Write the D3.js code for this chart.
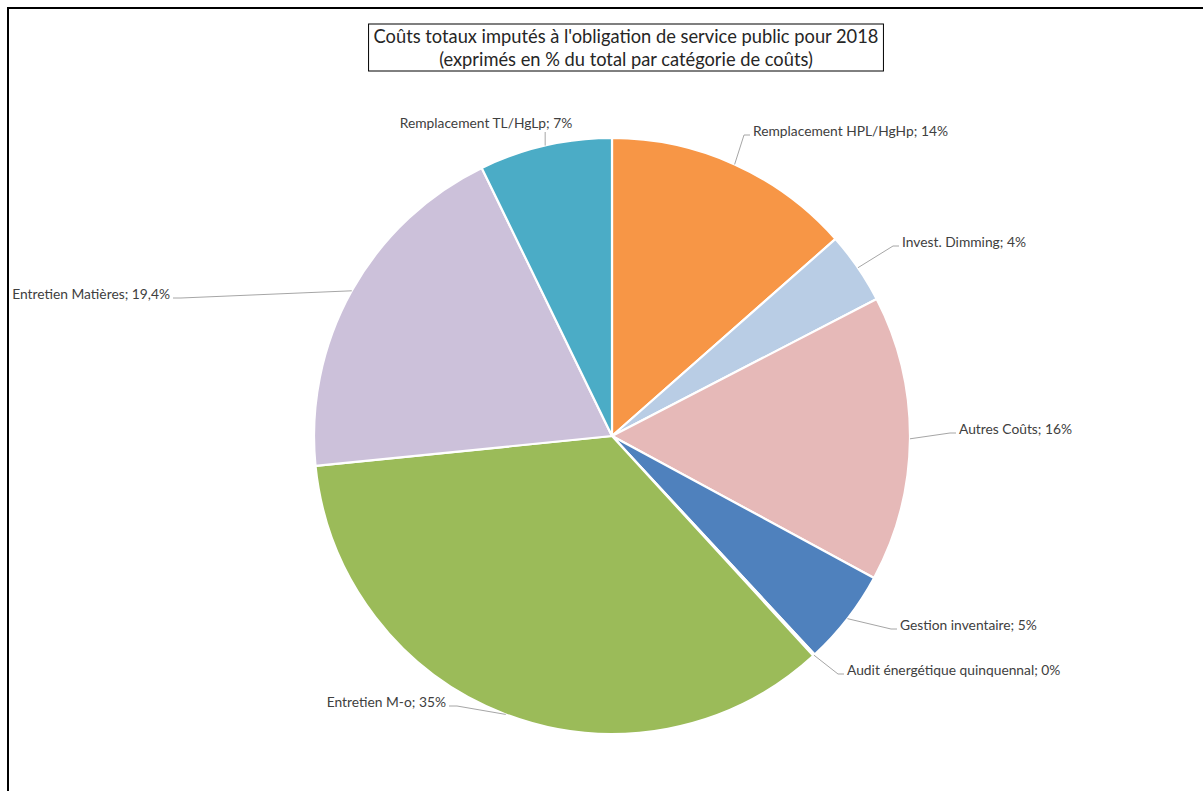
<!DOCTYPE html>
<html>
<head>
<meta charset="utf-8">
<script src="https://cdn.jsdelivr.net/npm/d3@7"></script>
<style>
  html, body { margin: 0; padding: 0; background: #ffffff; }
  svg { display: block; }
</style>
</head>
<body>
<svg id="chart" width="1203" height="791"></svg>
<script>
// Cost categories, clockwise from 12 o'clock
const categories = [
  "Remplacement HPL/HgHp",
  "Invest. Dimming",
  "Autres Coûts",
  "Gestion inventaire",
  "Audit énergétique quinquennal",
  "Entretien M-o",
  "Entretien Matières",
  "Remplacement TL/HgLp"
];
// Share of total cost, in %
const shares = [13.5, 3.9, 15.5, 5.2, 0.1, 35.2, 19.4, 7.2];
// Decimals shown in each data label
const labelDecimals = [0, 0, 0, 0, 0, 0, 1, 0];
const sliceColors = ["#F79646", "#B9CDE5", "#E6B9B8", "#4F81BD", "#8064A2", "#9BBB59", "#CCC1DA", "#4BACC6"];
const titleLines = [
  "Coûts totaux imputés à l'obligation de service public pour 2018",
  "(exprimés en % du total par catégorie de coûts)"
];

// Label placement relative to the pie centre
const labelLayout = [
  { dx: 141, dy: -305, anchor: "start" },
  { dx: 290, dy: -194, anchor: "start" },
  { dx: 347, dy: -7,   anchor: "start" },
  { dx: 288, dy: 189,  anchor: "start" },
  { dx: 235, dy: 234,  anchor: "start" },
  { dx: -166, dy: 266, anchor: "end" },
  { dx: -442, dy: -142, anchor: "end" },
  { dx: -126, dy: -313, anchor: "middle" }
];

const W = 1203, H = 791;
const cx = 612, cy = 436, R = 298;
const FONT = "Lato, 'Open Sans', sans-serif";

const svg = d3.select("#chart");

// Chart frame (runs off the right and bottom edges)
svg.append("rect")
  .attr("x", 8).attr("y", 8)
  .attr("width", W + 50).attr("height", H + 50)
  .attr("fill", "#ffffff")
  .attr("stroke", "#000000")
  .attr("stroke-width", 2);

// Title in a bordered box
const titleG = svg.append("g");
const titleText = titleG.append("text")
  .attr("font-family", FONT)
  .attr("font-size", 18.3)
  .attr("fill", "#262626")
  .attr("text-anchor", "middle");
titleLines.forEach((t, i) => {
  titleText.append("tspan")
    .attr("x", 626)
    .attr("y", 43 + i * 23)
    .text(t);
});
const tb = titleText.node().getBBox();
titleG.insert("rect", "text")
  .attr("x", tb.x - 5).attr("y", tb.y - 1)
  .attr("width", tb.width + 10).attr("height", tb.height + 2)
  .attr("fill", "#ffffff")
  .attr("stroke", "#000000")
  .attr("stroke-width", 1);

// Pie
const pie = d3.pie().sort(null).value(d => d.value);
const data = categories.map((c, i) => ({ name: c, value: shares[i], i }));
const arcs = pie(data);
const arc = d3.arc().innerRadius(0).outerRadius(R);
const edgeArc = d3.arc().innerRadius(R).outerRadius(R);

const g = svg.append("g").attr("transform", `translate(${cx},${cy})`);

g.selectAll("path.slice")
  .data(arcs)
  .join("path")
  .attr("class", "slice")
  .attr("d", arc)
  .attr("fill", d => sliceColors[d.data.i])
  .attr("stroke", "#ffffff")
  .attr("stroke-width", 2.2)
  .attr("stroke-linejoin", "round");

// Data labels
const locale = d3.formatLocale({ decimal: ",", thousands: " ", grouping: [3], currency: ["", " €"] });
const labelText = d => {
  const fmt = locale.format("." + labelDecimals[d.data.i] + "f");
  return `${d.data.name}; ${fmt(d.data.value)}%`;
};

const line = d3.line();
arcs.forEach(d => {
  const L = labelLayout[d.data.i];
  const edge = edgeArc.centroid(d);
  let pts;
  if (L.anchor === "middle") {
    pts = [edge, [edge[0], L.dy + 9]];
  } else if (L.anchor === "start") {
    pts = [edge, [L.dx - 9, L.dy + 4], [L.dx - 3, L.dy + 4]];
  } else {
    pts = [edge, [L.dx + 11, L.dy + 4], [L.dx + 3, L.dy + 4]];
  }
  g.append("path")
    .attr("d", line(pts))
    .attr("fill", "none")
    .attr("stroke", "#A6A6A6")
    .attr("stroke-width", 1);

  g.append("text")
    .attr("x", L.dx)
    .attr("y", L.dy)
    .attr("dy", "0.35em")
    .attr("text-anchor", L.anchor)
    .attr("font-family", FONT)
    .attr("font-size", 13.8)
    .attr("fill", "#404040")
    .text(labelText(d));
});
</script>
</body>
</html>
